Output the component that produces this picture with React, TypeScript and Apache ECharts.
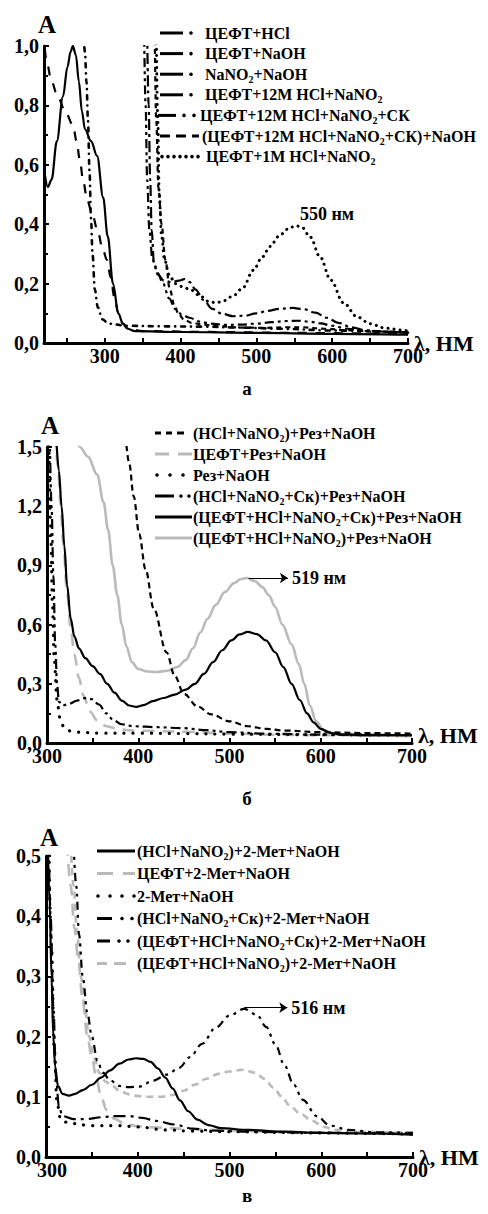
import React, { useEffect, useRef } from "react";
import * as echarts from "echarts";

type Pt = [number, number];

// ---------------- Panel а (λ 220–700, A 0–1.0) ----------------
const aLabels = [
  "ЦЕФТ+HCl",
  "ЦЕФТ+NaOH",
  "NaNO2+NaOH",
  "ЦЕФТ+12М HCl+NaNO2",
  "ЦЕФТ+12М HCl+NaNO2+СК",
  "(ЦЕФТ+12М HCl+NaNO2+СК)+NaOH",
  "ЦЕФТ+1М HCl+NaNO2",
];
const aCefHcl: Pt[] = [
  [221, 0.57], [225, 0.525], [230, 0.55], [237, 0.68], [245, 0.83], [251, 0.93], [255, 0.98],
  [258, 1.0], [262, 0.97], [266, 0.88], [270, 0.78], [274, 0.72], [282, 0.68], [290, 0.63],
  [298, 0.49], [304, 0.36], [311, 0.2], [318, 0.1], [324, 0.065], [330, 0.048], [340, 0.04],
  [400, 0.037], [500, 0.034], [600, 0.031], [700, 0.028],
];
const aCefNaoh: Pt[] = [
  [221, 0.99], [224, 0.94], [230, 0.88], [238, 0.83], [248, 0.78], [258, 0.735], [263, 0.68],
  [267, 0.62], [272, 0.54], [277, 0.48], [284, 0.43], [291, 0.375], [297, 0.32], [303, 0.28],
  [308, 0.22], [313, 0.15], [318, 0.1], [324, 0.065], [332, 0.047], [350, 0.04], [450, 0.037],
  [550, 0.034], [700, 0.03],
];
const aNitriteNaoh: Pt[] = [
  [272, 1.05], [274, 0.98], [276, 0.88], [278, 0.75], [280, 0.58], [282, 0.42], [284, 0.3],
  [287, 0.18], [291, 0.12], [297, 0.08], [305, 0.065], [330, 0.058], [380, 0.056], [430, 0.055],
  [480, 0.052], [530, 0.048], [600, 0.042], [700, 0.035],
];
const aCef12Nitrite: Pt[] = [
  [356, 1.05], [358, 0.8], [360, 0.55], [362, 0.38], [365, 0.27], [370, 0.23], [378, 0.21],
  [388, 0.205], [398, 0.21], [405, 0.215], [412, 0.205], [420, 0.18], [430, 0.145], [442, 0.115],
  [455, 0.098], [470, 0.09], [485, 0.092], [500, 0.1], [515, 0.108], [530, 0.115], [548, 0.118],
  [562, 0.114], [578, 0.102], [593, 0.085], [608, 0.068], [625, 0.053], [645, 0.043], [670, 0.038],
  [700, 0.035],
];
const aCef12NitriteSk: Pt[] = [
  [352, 1.05], [354, 0.8], [356, 0.55], [359, 0.38], [363, 0.28], [370, 0.235], [377, 0.2],
  [385, 0.15], [393, 0.115], [402, 0.095], [412, 0.085], [425, 0.072], [440, 0.065], [460, 0.061],
  [480, 0.062], [500, 0.065], [520, 0.07], [540, 0.074], [555, 0.075], [570, 0.072], [585, 0.066],
  [600, 0.058], [620, 0.048], [645, 0.04], [700, 0.035],
];
const aCef12NitriteSkNaoh: Pt[] = [
  [366, 1.05], [368, 0.75], [371, 0.52], [375, 0.4], [380, 0.28], [386, 0.18], [392, 0.125],
  [398, 0.095], [405, 0.078], [415, 0.068], [430, 0.062], [450, 0.056], [480, 0.052], [510, 0.051],
  [540, 0.053], [560, 0.053], [590, 0.048], [620, 0.043], [660, 0.038], [700, 0.035],
];
const aCef1Nitrite: Pt[] = [
  [368, 1.05], [370, 0.75], [372, 0.5], [375, 0.36], [379, 0.28], [385, 0.23], [393, 0.2],
  [402, 0.19], [413, 0.18], [425, 0.16], [437, 0.14], [447, 0.135], [458, 0.143], [470, 0.16],
  [482, 0.185], [496, 0.245], [508, 0.29], [518, 0.325], [530, 0.36], [541, 0.383], [552, 0.395],
  [560, 0.39], [571, 0.357], [584, 0.29], [598, 0.212], [615, 0.135], [633, 0.088], [650, 0.065],
  [670, 0.05], [694, 0.043], [700, 0.04],
];
const aXLabels = [300, 400, 500, 600, 700];
const aXTicks = [250, 300, 350, 400, 450, 500, 550, 600, 650, 700];
const aPeakText = "550 нм";

// ---------------- Panel б (λ 300–700, A 0–1.5) ----------------
const bLabels = [
  "(HCl+NaNO2)+Рез+NaOH",
  "ЦЕФТ+Рез+NaOH",
  "Рез+NaOH",
  "(HCl+NaNO2+Ск)+Рез+NaOH",
  "(ЦЕФТ+HCl+NaNO2+Ск)+Рез+NaOH",
  "(ЦЕФТ+HCl+NaNO2)+Рез+NaOH",
];
const bHclNitriteRez: Pt[] = [
  [386, 1.56], [390, 1.42], [395, 1.25], [401, 1.06], [408, 0.88], [417, 0.68], [431, 0.46],
  [440, 0.34], [450, 0.25], [465, 0.185], [480, 0.145], [500, 0.11], [520, 0.085], [540, 0.072],
  [560, 0.063], [600, 0.055], [650, 0.05], [700, 0.048],
];
const bCefRez: Pt[] = [
  [309, 1.56], [312, 1.4], [315, 1.2], [318, 1.0], [322, 0.76], [326, 0.58], [330, 0.45],
  [335, 0.33], [340, 0.24], [347, 0.16], [355, 0.115], [365, 0.085], [380, 0.068], [400, 0.062],
  [450, 0.057], [500, 0.048], [550, 0.042], [600, 0.04], [700, 0.038],
];
const bRez: Pt[] = [
  [302, 1.56], [304, 1.1], [306, 0.7], [308, 0.42], [311, 0.22], [314, 0.13], [318, 0.085],
  [324, 0.062], [332, 0.055], [360, 0.05], [400, 0.05], [450, 0.048], [500, 0.045], [600, 0.042],
  [700, 0.04],
];
const bHclNitriteSkRez: Pt[] = [
  [303, 1.56], [305, 1.2], [307, 0.85], [309, 0.5], [311, 0.3], [313, 0.21], [317, 0.19],
  [325, 0.2], [333, 0.215], [341, 0.227], [349, 0.222], [357, 0.195], [365, 0.15], [373, 0.115],
  [382, 0.095], [395, 0.085], [420, 0.08], [450, 0.075], [475, 0.065], [500, 0.055], [540, 0.047],
  [600, 0.042], [700, 0.04],
];
const bCefHclNitriteSkRez: Pt[] = [
  [310, 1.56], [313, 1.38], [316, 1.2], [319, 1.0], [322, 0.8], [326, 0.63], [330, 0.54],
  [335, 0.48], [342, 0.43], [350, 0.39], [358, 0.35], [366, 0.3], [374, 0.255], [382, 0.215],
  [390, 0.19], [398, 0.183], [406, 0.192], [416, 0.212], [428, 0.228], [440, 0.245], [452, 0.27],
  [462, 0.3], [472, 0.35], [482, 0.41], [492, 0.47], [502, 0.52], [511, 0.55], [520, 0.563],
  [530, 0.552], [540, 0.52], [550, 0.46], [559, 0.385], [568, 0.3], [577, 0.218], [585, 0.15],
  [592, 0.105], [600, 0.072], [610, 0.052], [622, 0.043], [650, 0.04], [700, 0.04],
];
const bCefHclNitriteRez: Pt[] = [
  [331, 1.56], [336, 1.5], [345, 1.45], [355, 1.36], [362, 1.22], [367, 1.08], [372, 0.9],
  [377, 0.75], [382, 0.6], [387, 0.49], [393, 0.41], [400, 0.375], [410, 0.362], [420, 0.36],
  [432, 0.366], [443, 0.385], [452, 0.42], [460, 0.48], [468, 0.56], [476, 0.63], [485, 0.7],
  [495, 0.765], [505, 0.81], [512, 0.83], [519, 0.836], [528, 0.82], [536, 0.79], [543, 0.75],
  [550, 0.69], [558, 0.6], [568, 0.5], [576, 0.4], [582, 0.3], [588, 0.19], [595, 0.11],
  [603, 0.066], [615, 0.045], [650, 0.037], [700, 0.035],
];
const bPeak: Pt = [521, 0.836];
const bArrowEnd = 564;
const bPeakText = "519 нм";

// ---------------- Panel в (λ 300–700, A 0–0.5) ----------------
const cLabels = [
  "(HCl+NaNO2)+2-Мет+NaOH",
  "ЦЕФТ+2-Мет+NaOH",
  "2-Мет+NaOH",
  "(HCl+NaNO2+Ск)+2-Мет+NaOH",
  "(ЦЕФТ+HCl+NaNO2+Ск)+2-Мет+NaOH",
  "(ЦЕФТ+HCl+NaNO2)+2-Мет+NaOH",
];
const cHclNitriteMet: Pt[] = [
  [302, 0.52], [304, 0.42], [306, 0.3], [308, 0.2], [310, 0.15], [313, 0.118], [318, 0.105],
  [325, 0.102], [332, 0.105], [340, 0.111], [350, 0.12], [360, 0.132], [370, 0.144], [380, 0.155],
  [390, 0.162], [398, 0.164], [406, 0.163], [414, 0.158], [422, 0.147], [430, 0.132], [438, 0.114],
  [446, 0.094], [455, 0.076], [465, 0.062], [477, 0.053], [490, 0.048], [520, 0.045], [560, 0.042],
  [600, 0.04], [650, 0.039], [700, 0.037],
];
const cCefMet: Pt[] = [
  [323, 0.52], [327, 0.45], [331, 0.38], [335, 0.33], [340, 0.26], [345, 0.2], [350, 0.165],
  [355, 0.13], [360, 0.1], [366, 0.078], [375, 0.063], [385, 0.056], [400, 0.051], [420, 0.049],
  [460, 0.046], [500, 0.044], [550, 0.042], [600, 0.041], [700, 0.04],
];
const cMet: Pt[] = [
  [303, 0.52], [306, 0.35], [309, 0.18], [312, 0.09], [316, 0.062], [325, 0.056], [350, 0.052],
  [380, 0.052], [400, 0.05], [430, 0.045], [460, 0.043], [500, 0.042], [600, 0.04], [700, 0.038],
];
const cHclNitriteSkMet: Pt[] = [
  [303, 0.52], [305, 0.4], [308, 0.25], [311, 0.13], [314, 0.085], [318, 0.068], [330, 0.063],
  [345, 0.063], [360, 0.066], [375, 0.068], [390, 0.068], [405, 0.065], [420, 0.06], [440, 0.054],
  [460, 0.047], [480, 0.044], [520, 0.042], [600, 0.04], [700, 0.038],
];
const cCefHclNitriteSkMet: Pt[] = [
  [330, 0.52], [333, 0.45], [336, 0.37], [340, 0.3], [345, 0.24], [350, 0.2], [356, 0.16],
  [362, 0.14], [370, 0.127], [380, 0.118], [390, 0.116], [402, 0.117], [417, 0.127], [432, 0.137],
  [445, 0.148], [457, 0.166], [470, 0.188], [485, 0.215], [500, 0.235], [516, 0.246], [530, 0.236],
  [540, 0.216], [550, 0.187], [560, 0.152], [570, 0.12], [580, 0.095], [595, 0.068], [610, 0.052],
  [630, 0.045], [660, 0.041], [700, 0.04],
];
const cCefHclNitriteMet: Pt[] = [
  [327, 0.52], [330, 0.45], [334, 0.37], [338, 0.3], [342, 0.25], [347, 0.2], [352, 0.165],
  [358, 0.14], [365, 0.125], [372, 0.118], [382, 0.108], [395, 0.102], [410, 0.1], [425, 0.1],
  [438, 0.103], [450, 0.11], [462, 0.12], [475, 0.13], [488, 0.138], [500, 0.142], [515, 0.145],
  [528, 0.14], [538, 0.13], [548, 0.115], [557, 0.1], [566, 0.085], [577, 0.072], [590, 0.06],
  [603, 0.05], [615, 0.045], [640, 0.042], [700, 0.04],
];
const cPeak: Pt = [516, 0.248];
const cArrowEnd = 563;
const cPeakText = "516 нм";

// ---------------- styling ----------------
const FONT = "Liberation Serif, Times New Roman, serif";
const BLACK = "#000000";
const GRAY = "#bababa";

type LS = { color: string; width: number; type: any; cap?: string };
const solid = (color = BLACK, width = 2.2): LS => ({ color, width, type: "solid" });
const dashed = (arr: number[], color = BLACK, width = 2.2, cap = "butt"): LS => ({ color, width, type: arr, cap });

function lineSeries(name: string, data: Pt[], gi: number, ls: LS, extra: any = {}) {
  return {
    type: "line",
    name,
    data,
    xAxisIndex: gi,
    yAxisIndex: gi,
    symbol: "none",
    showSymbol: false,
    smooth: 0.35,
    smoothMonotone: "x",
    clip: true,
    silent: true,
    lineStyle: ls,
    ...extra,
  };
}

const tickLabel = { fontFamily: FONT, fontWeight: "bold", fontSize: 20, color: BLACK };
const axisLineStyle = { show: true, onZero: false, lineStyle: { color: BLACK, width: 3 } };

function xAxisOf(
  gi: number,
  min: number,
  max: number,
  nameLift: number,
  firstShift: number,
  custom?: { labels: number[]; ticks: number[] }
) {
  return {
    type: "value",
    gridIndex: gi,
    min,
    max,
    ...(custom ? {} : { interval: 100 }),
    axisLine: axisLineStyle,
    axisTick: {
      show: true,
      inside: true,
      length: 5,
      lineStyle: { color: BLACK, width: 2 },
      ...(custom ? { customValues: custom.ticks } : {}),
    },
    minorTick: custom
      ? { show: false }
      : { show: true, splitNumber: 2, length: 5, lineStyle: { color: BLACK, width: 2 } },
    splitLine: { show: false },
    minorSplitLine: { show: false },
    axisLabel: {
      ...tickLabel,
      margin: 3,
      formatter: (v: number) => (v === min && firstShift ? "{m|" + v + "}" : String(v)),
      rich: { m: { ...tickLabel, padding: [0, 0, 0, firstShift] } },
      ...(custom ? { customValues: custom.labels } : {}),
    },
    name: "{n|λ, НМ}",
    nameLocation: "end",
    nameGap: 6,
    nameMoveOverlap: false,
    nameTextStyle: {
      align: "left",
      verticalAlign: "middle",
      rich: {
        n: { fontFamily: FONT, fontWeight: "bold", fontSize: 22, color: BLACK, padding: [0, 0, nameLift, 0] },
      },
    },
  };
}

function yAxisOf(gi: number, max: number, interval: number, gap: number) {
  return {
    type: "value",
    gridIndex: gi,
    min: 0,
    max,
    interval,
    axisLine: axisLineStyle,
    axisTick: { show: true, inside: true, length: 5, lineStyle: { color: BLACK, width: 2 } },
    minorTick: { show: true, splitNumber: 2, length: 4, lineStyle: { color: BLACK, width: 2 } },
    splitLine: { show: false },
    minorSplitLine: { show: false },
    axisLabel: {
      ...tickLabel,
      margin: 5,
      formatter: (v: number) => v.toFixed(1).replace(".", ","),
    },
    name: "A",
    nameLocation: "end",
    nameGap: gap,
    nameMoveOverlap: false,
    nameTextStyle: {
      fontFamily: FONT,
      fontWeight: "bold",
      fontSize: 25,
      color: BLACK,
      align: "center",
      verticalAlign: "bottom",
      padding: [0, 0, 0, 6],
    },
  };
}

const richSub = {
  s: { fontFamily: FONT, fontWeight: "bold", fontSize: 10, fill: BLACK, padding: [10, 0, 0, 0] },
};
const toRich = (t: string) => t.replace(/NaNO2/g, "NaNO{s|2}");

function textEl(x: number, y: number, t: string, size: number, align = "left") {
  return {
    type: "text",
    x,
    y,
    silent: true,
    style: {
      text: toRich(t),
      fontFamily: FONT,
      fontWeight: "bold",
      fontSize: size,
      fill: BLACK,
      align,
      verticalAlign: "middle",
      rich: richSub,
    },
  };
}
function seg(x1: number, x2: number, y: number, color = BLACK, w = 3) {
  return { type: "line", silent: true, shape: { x1, y1: y, x2, y2: y }, style: { stroke: color, lineWidth: w } };
}
function dot(x: number, y: number, color = BLACK, r = 1.7) {
  return { type: "circle", silent: true, shape: { cx: x, cy: y, r }, style: { fill: color } };
}

// legend icon layouts (pixel positions)
type Icon = { segs: [number, number][]; dots: number[]; color: string };
const aIcons: Icon[] = [
  { segs: [[160, 183]], dots: [191], color: BLACK },
  { segs: [[160, 183]], dots: [191], color: BLACK },
  { segs: [[160, 183]], dots: [191], color: BLACK },
  { segs: [[160, 183]], dots: [191], color: BLACK },
  { segs: [[158, 176]], dots: [184, 194], color: BLACK },
  { segs: [[160, 170], [176, 186], [192, 199]], dots: [], color: BLACK },
  { segs: [], dots: [162, 168, 174, 180, 186, 192, 198], color: BLACK },
];
const aTextX = [205, 205, 205, 205, 200, 202, 206];
const bIcons: Icon[] = [
  { segs: [[155, 161], [166, 172], [177, 184]], dots: [], color: BLACK },
  { segs: [[155, 169], [178, 192]], dots: [], color: GRAY },
  { segs: [], dots: [157, 170, 183], color: BLACK },
  { segs: [[155, 174]], dots: [181, 189], color: BLACK },
  { segs: [[155, 192]], dots: [], color: BLACK },
  { segs: [[155, 192]], dots: [], color: GRAY },
];
const cIcons: Icon[] = [
  { segs: [[97, 135]], dots: [], color: BLACK },
  { segs: [[97, 113], [123, 135]], dots: [], color: GRAY },
  { segs: [], dots: [98, 110, 122, 134], color: BLACK },
  { segs: [[97, 112]], dots: [122, 132], color: BLACK },
  { segs: [[97, 110]], dots: [119, 128], color: BLACK },
  { segs: [[97, 107], [114, 126]], dots: [], color: GRAY },
];

function legendEls(labels: string[], icons: Icon[], textX: number[], y0: number, gap: number) {
  const els: any[] = [];
  labels.forEach((lab, i) => {
    const y = y0 + i * gap;
    const ic = icons[i];
    ic.segs.forEach(([x1, x2]) => els.push(seg(x1, x2, y, ic.color, 3)));
    ic.dots.forEach((x) => els.push(dot(x, y, ic.color, 1.8)));
    els.push(textEl(textX[i], y, lab, 16));
  });
  return els;
}

function arrowMark(peak: Pt, endX: number, text: string) {
  return {
    markLine: {
      silent: true,
      symbol: ["none", "arrow"],
      symbolSize: 8,
      precision: 3,
      lineStyle: { color: BLACK, width: 1.2, type: "solid" },
      label: {
        show: true,
        position: "end",
        formatter: text,
        fontFamily: FONT,
        fontWeight: "bold",
        fontSize: 18,
        color: BLACK,
        distance: 4,
      },
      emphasis: { disabled: true },
      data: [[{ coord: [peak[0], peak[1]] }, { coord: [endX, peak[1]] }]],
    },
  };
}

export default function App() {
  const ref = useRef<HTMLDivElement>(null);
  useEffect(() => {
    if (!ref.current) return;
    const chart = echarts.init(ref.current, null, { renderer: "svg" });

    const series = [
      lineSeries(aLabels[0], aCefHcl, 0, solid()),
      lineSeries(aLabels[1], aCefNaoh, 0, dashed([9, 9])),
      lineSeries(aLabels[2], aNitriteNaoh, 0, dashed([4, 6, 0.1, 6], BLACK, 2.6, "round")),
      lineSeries(aLabels[3], aCef12Nitrite, 0, dashed([11, 4, 3, 4])),
      lineSeries(aLabels[4], aCef12NitriteSk, 0, dashed([9, 4, 3, 4, 3, 4])),
      lineSeries(aLabels[5], aCef12NitriteSkNaoh, 0, dashed([5, 4])),
      lineSeries(aLabels[6], aCef1Nitrite, 0, dashed([0.1, 6], BLACK, 3, "round")),

      lineSeries(bLabels[5], bCefHclNitriteRez, 1, solid(GRAY, 2.6), arrowMark(bPeak, bArrowEnd, bPeakText)),
      lineSeries(bLabels[1], bCefRez, 1, dashed([12, 8], GRAY, 2.6)),
      lineSeries(bLabels[0], bHclNitriteRez, 1, dashed([6, 4])),
      lineSeries(bLabels[2], bRez, 1, dashed([0.1, 9], BLACK, 3.2, "round")),
      lineSeries(bLabels[3], bHclNitriteSkRez, 1, dashed([10, 4, 3, 4, 3, 4])),
      lineSeries(bLabels[4], bCefHclNitriteSkRez, 1, solid()),

      lineSeries(cLabels[5], cCefHclNitriteMet, 2, dashed([7, 5], GRAY, 2.6)),
      lineSeries(cLabels[1], cCefMet, 2, dashed([12, 8], GRAY, 2.6)),
      lineSeries(cLabels[0], cHclNitriteMet, 2, solid()),
      lineSeries(cLabels[2], cMet, 2, dashed([0.1, 9], BLACK, 3.2, "round")),
      lineSeries(cLabels[3], cHclNitriteSkMet, 2, dashed([12, 5, 3, 5])),
      lineSeries(cLabels[4], cCefHclNitriteSkMet, 2, dashed([8, 5, 3, 5, 3, 5]), arrowMark(cPeak, cArrowEnd, cPeakText)),
    ];

    const graphics: any[] = [
      ...legendEls(aLabels, aIcons, aTextX, 33, 20.6),
      ...legendEls(bLabels, bIcons, [193, 193, 193, 193, 193, 193], 433, 21),
      ...legendEls(cLabels, cIcons, [137, 137, 137, 137, 137, 137], 851, 22.5),
      textEl(300, 214, aPeakText, 18),
      textEl(247, 388, "а", 19, "center"),
      textEl(247, 798, "б", 19, "center"),
      textEl(247, 1195, "в", 19, "center"),
    ];

    const option: any = {
      animation: false,
      backgroundColor: "#ffffff",
      grid: [
        { left: 44, top: 46, width: 364, height: 297, outerBoundsMode: "none", containLabel: false },
        { left: 47, top: 447, width: 365, height: 296, outerBoundsMode: "none", containLabel: false },
        { left: 46, top: 856, width: 367, height: 301, outerBoundsMode: "none", containLabel: false },
      ],
      xAxis: [
        xAxisOf(0, 220, 700, 0, 0, { labels: aXLabels, ticks: aXTicks }),
        xAxisOf(1, 300, 700, 16, 0),
        xAxisOf(2, 300, 700, 0, 12),
      ],
      yAxis: [yAxisOf(0, 1.0, 0.2, 9), yAxisOf(1, 1.5, 0.3, 9), yAxisOf(2, 0.5, 0.1, 6)],
      series,
      graphic: { elements: graphics },
    };
    chart.setOption(option);
    return () => chart.dispose();
  }, []);

  return (
    <div
      ref={ref}
      style={{ position: "absolute", left: 0, top: 0, width: 488, height: 1214, background: "#fff" }}
    />
  );
}
